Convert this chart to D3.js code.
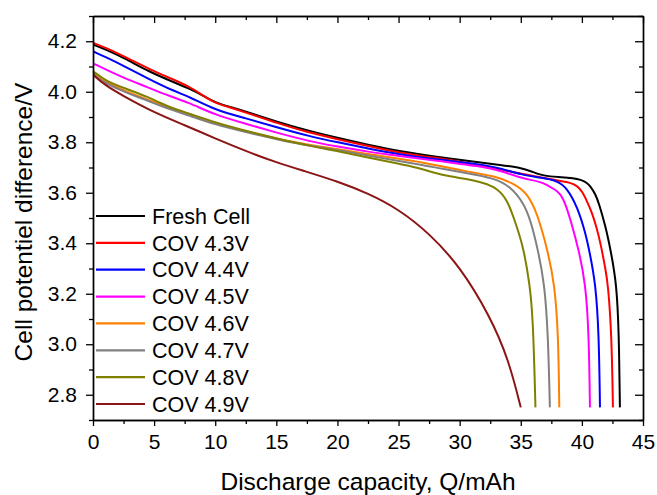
<!DOCTYPE html>
<html>
<head>
<meta charset="utf-8">
<script src="https://cdn.jsdelivr.net/npm/d3@7"></script>
<style>
  html, body { margin: 0; padding: 0; background: #fff; }
  svg { display: block; }
  text { font-family: "Liberation Sans", Arial, sans-serif; fill: #000; }
</style>
</head>
<body>
<svg id="chart" width="657" height="495"></svg>
<script>
// Discharge curves: [capacity (mAh), cell potential (V)]
const freshCell = [[0,4.187],[1,4.168],[2.5,4.135],[4.65,4.078],[6.5,4.04],[7.9,4.012],[9,3.985],[10,3.957],[11.2,3.94],[12.5,3.922],[15,3.882],[17.5,3.847],[20,3.817],[22.5,3.79],[25,3.765],[28,3.743],[31.7,3.72],[33.5,3.708],[35,3.70],[36,3.682],[36.6,3.671],[37.4,3.664],[38.3,3.662],[39.3,3.658],[39.9,3.652],[40.4,3.64],[40.71,3.625],[41.1,3.595],[41.39,3.559],[41.94,3.466],[42.35,3.373],[42.84,3.241],[43.03,3.043],[43.11,2.75]];
const cov43 = [[0,4.194],[1,4.175],[2.5,4.142],[4.65,4.088],[6.5,4.05],[7.9,4.02],[9,3.985],[10,3.955],[11.2,3.938],[12.5,3.918],[15,3.877],[17.5,3.84],[20,3.812],[22.5,3.785],[25,3.759],[28,3.738],[30,3.724],[33.3,3.693],[35,3.675],[36.5,3.662],[37.7,3.652],[39.07,3.64],[39.6,3.628],[40.03,3.605],[40.4,3.568],[40.85,3.519],[41.2,3.462],[41.53,3.40],[41.94,3.294],[42.13,3.241],[42.43,3.043],[42.54,2.75]];
const cov44 = [[0,4.16],[1,4.138],[2.5,4.103],[4.65,4.048],[6.5,4.005],[7.9,3.98],[10,3.927],[12.5,3.895],[15,3.86],[17.76,3.823],[20,3.80],[22.5,3.775],[25,3.752],[28,3.733],[31.7,3.713],[33.5,3.695],[35,3.672],[36.6,3.66],[37.98,3.648],[38.8,3.618],[39.62,3.545],[40.3,3.44],[40.65,3.36],[41.12,3.241],[41.39,3.043],[41.48,2.75]];
const cov45 = [[0,4.112],[1,4.09],[2.5,4.055],[4.65,4.015],[5.5,3.996],[7.9,3.956],[10,3.908],[12.5,3.873],[15,3.838],[17.76,3.803],[20,3.783],[22.5,3.762],[25,3.746],[28,3.728],[31.7,3.705],[33.5,3.685],[35,3.658],[36.61,3.644],[37.16,3.631],[37.7,3.615],[38.25,3.598],[38.7,3.55],[39.07,3.492],[39.75,3.373],[40.3,3.241],[40.57,3.043],[40.66,2.75]];
const cov46 = [[0,4.075],[0.5,4.055],[1,4.04],[2.5,4.005],[4.65,3.965],[7.9,3.91],[10,3.873],[12.5,3.843],[15,3.815],[17.76,3.788],[20,3.773],[22.5,3.753],[25,3.735],[27,3.72],[28.5,3.705],[30.6,3.684],[32.8,3.667],[34.4,3.638],[35.54,3.598],[36.35,3.519],[37.19,3.373],[37.76,3.241],[38.07,3.043],[38.15,2.75]];
const cov47 = [[0,4.072],[0.5,4.05],[1,4.035],[2.5,4.0],[4.65,3.962],[5.5,3.944],[7.9,3.905],[10,3.87],[12.5,3.84],[15,3.812],[17.76,3.785],[20,3.77],[22.5,3.748],[25,3.725],[27,3.71],[28.5,3.695],[30.6,3.678],[32.8,3.658],[34.15,3.625],[35.24,3.559],[35.8,3.492],[36.41,3.373],[36.94,3.241],[37.23,3.043],[37.38,2.75]];
const cov48 = [[0,4.08],[0.5,4.065],[1,4.045],[2.5,4.015],[4.65,3.977],[5.5,3.955],[6.5,3.935],[7.9,3.913],[10,3.878],[12.5,3.845],[15,3.815],[17.76,3.785],[20,3.765],[22.5,3.74],[25,3.715],[26.5,3.70],[28,3.678],[29.2,3.665],[30.5,3.655],[31.97,3.64],[33.07,3.618],[33.89,3.572],[34.43,3.50],[34.85,3.44],[35.25,3.373],[35.72,3.241],[36.0,3.109],[36.2,2.75]];
const cov49 = [[0,4.068],[1,4.025],[2.5,3.983],[5,3.918],[7.5,3.868],[10,3.815],[12.5,3.765],[15,3.72],[17.5,3.683],[20,3.645],[22.5,3.598],[25,3.535],[27.5,3.44],[30,3.31],[32.5,3.11],[34,2.94],[35,2.75]];

const seriesNames  = ["Fresh Cell", "COV 4.3V", "COV 4.4V", "COV 4.5V", "COV 4.6V", "COV 4.7V", "COV 4.8V", "COV 4.9V"];
const seriesValues = [freshCell, cov43, cov44, cov45, cov46, cov47, cov48, cov49];
const seriesColors = ["#000000", "#ff0000", "#0000ff", "#ff00ff", "#ff8000", "#808080", "#808000", "#8b1414"];

const xMajorTicks = [0, 5, 10, 15, 20, 25, 30, 35, 40, 45];
const xMinorTicks = [2.5, 7.5, 12.5, 17.5, 22.5, 27.5, 32.5, 37.5, 42.5];
const yMajorTicks = [2.8, 3.0, 3.2, 3.4, 3.6, 3.8, 4.0, 4.2];
const yMinorTicks = [2.7, 2.9, 3.1, 3.3, 3.5, 3.7, 3.9, 4.1, 4.3];

const xTitle = "Discharge capacity, Q/mAh";
const yTitle = "Cell potentiel difference/V";

const svg = d3.select("#chart");
const frame = { left: 93, right: 643, top: 16, bottom: 420 };

const x = d3.scaleLinear().domain([0, 45]).range([frame.left, frame.right]);
const y = d3.scaleLinear().domain([2.7, 4.3]).range([frame.bottom, frame.top]);

// curves (clipped to the frame), smoothed through the sampled points
svg.append("clipPath").attr("id", "plotArea")
  .append("rect").attr("x", frame.left).attr("y", frame.top)
  .attr("width", frame.right - frame.left).attr("height", frame.bottom - frame.top);

const line = d3.line().x(d => x(d[0])).y(d => y(d[1])).curve(d3.curveBasis);

svg.append("g").attr("clip-path", "url(#plotArea)")
  .selectAll("path").data(seriesValues).join("path")
  .attr("d", line)
  .attr("fill", "none")
  .attr("stroke", (d, i) => seriesColors[i])
  .attr("stroke-width", 2)
  .attr("stroke-linejoin", "round");

// axes: labelled left/bottom with outward ticks, plain top/right with inward ticks
const tickFont = 21;
function styleAxis(g) {
  g.selectAll("path.domain").attr("stroke", "#000").attr("stroke-width", 1.4);
  g.selectAll(".tick line").attr("stroke", "#000").attr("stroke-width", 1.3);
  g.selectAll("text").attr("font-size", tickFont).attr("font-family", "'Liberation Sans', Arial, sans-serif").attr("fill", "#000");
}

svg.append("g").attr("transform", `translate(0,${frame.bottom})`)
  .call(d3.axisBottom(x).tickValues(xMajorTicks).tickSize(6).tickSizeOuter(0).tickPadding(8).tickFormat(d3.format("d")))
  .call(styleAxis);
svg.append("g").attr("transform", `translate(0,${frame.bottom})`)
  .call(d3.axisBottom(x).tickValues(xMinorTicks).tickSize(4).tickSizeOuter(0).tickFormat(""))
  .call(styleAxis);

svg.append("g").attr("transform", `translate(${frame.left},0)`)
  .call(d3.axisLeft(y).tickValues(yMajorTicks).tickSize(7).tickSizeOuter(0).tickPadding(9).tickFormat(d3.format(".1f")))
  .call(styleAxis);
svg.append("g").attr("transform", `translate(${frame.left},0)`)
  .call(d3.axisLeft(y).tickValues(yMinorTicks).tickSize(4).tickSizeOuter(0).tickFormat(""))
  .call(styleAxis);

svg.append("g").attr("transform", `translate(0,${frame.top})`)
  .call(d3.axisBottom(x).tickValues(xMajorTicks).tickSize(7).tickSizeOuter(0).tickFormat(""))
  .call(styleAxis);
svg.append("g").attr("transform", `translate(0,${frame.top})`)
  .call(d3.axisBottom(x).tickValues(xMinorTicks).tickSize(4).tickSizeOuter(0).tickFormat(""))
  .call(styleAxis);

svg.append("g").attr("transform", `translate(${frame.right},0)`)
  .call(d3.axisLeft(y).tickValues(yMajorTicks).tickSize(8).tickSizeOuter(0).tickFormat(""))
  .call(styleAxis);
svg.append("g").attr("transform", `translate(${frame.right},0)`)
  .call(d3.axisLeft(y).tickValues(yMinorTicks).tickSize(4).tickSizeOuter(0).tickFormat(""))
  .call(styleAxis);

// axis titles
svg.append("text")
  .attr("x", (frame.left + frame.right) / 2).attr("y", 490)
  .attr("text-anchor", "middle").attr("font-size", 24.5)
  .text(xTitle);

svg.append("text")
  .attr("transform", `translate(32,${(frame.top + frame.bottom) / 2 + 4}) rotate(-90)`)
  .attr("text-anchor", "middle").attr("font-size", 24.5)
  .text(yTitle);

// legend
const legend = svg.append("g");
const rowY = d3.scaleLinear().domain([0, 7]).range([216, 404]);
const rows = legend.selectAll("g").data(seriesNames).join("g")
  .attr("transform", (d, i) => `translate(0,${rowY(i)})`);
rows.append("line")
  .attr("x1", 96).attr("x2", 145).attr("y1", 0).attr("y2", 0)
  .attr("stroke", (d, i) => seriesColors[i]).attr("stroke-width", 2.2);
rows.append("text")
  .attr("x", 152).attr("y", 0).attr("dy", "0.36em")
  .attr("font-size", 21.5)
  .text(d => d);
</script>
</body>
</html>
